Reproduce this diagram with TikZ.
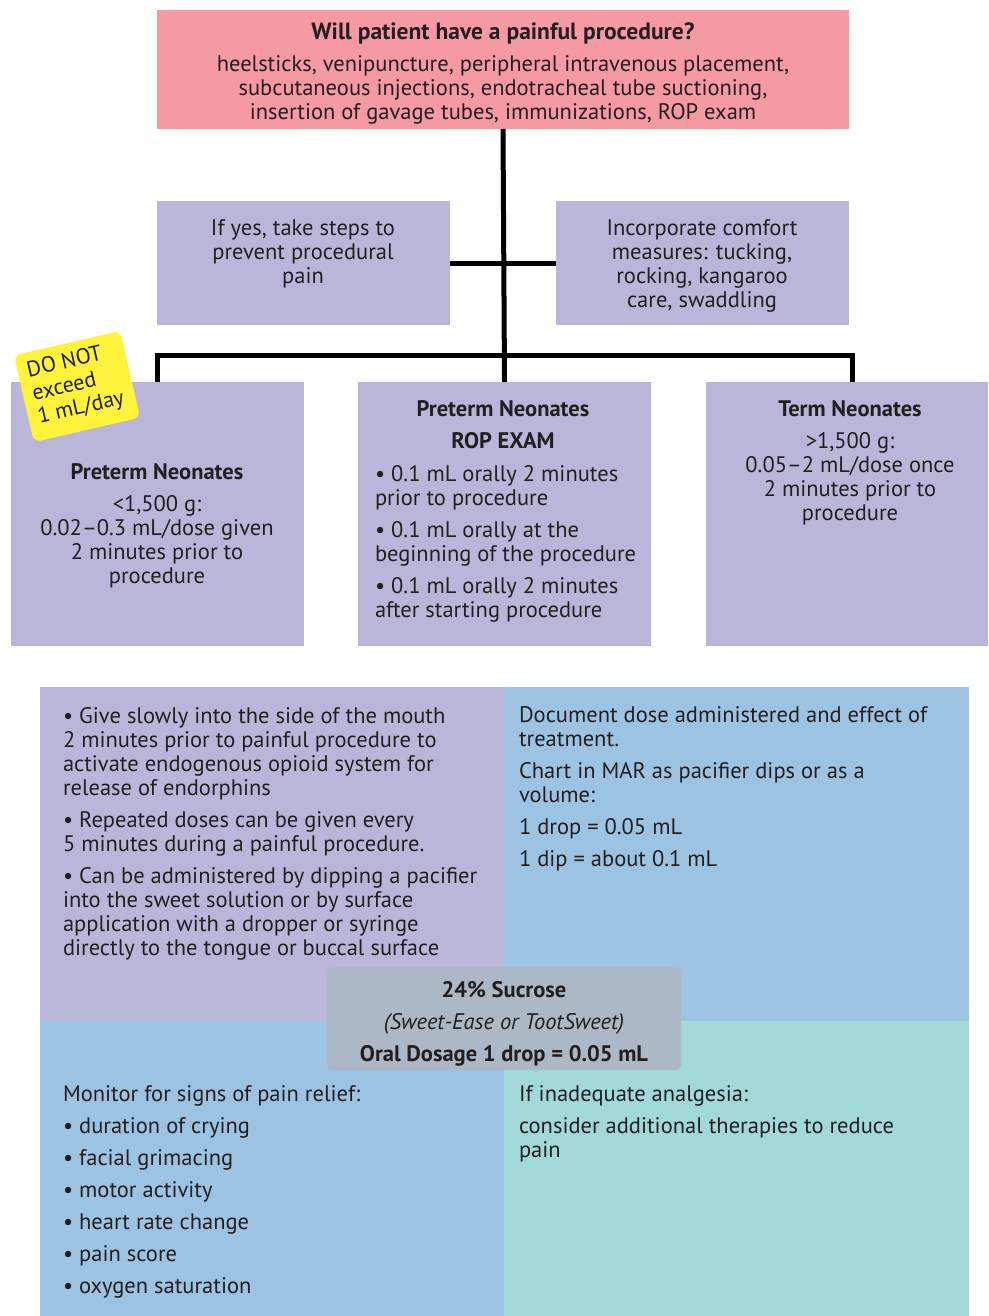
\documentclass[tikz,border=0pt]{standalone}
\usepackage{fontspec}
\setmainfont{PT Sans}
\definecolor{pinkc}{HTML}{F599A2}
\definecolor{purp}{HTML}{BAB6D9}
\definecolor{bluec}{HTML}{9DC3E3}
\definecolor{tealc}{HTML}{A1D9DA}
\definecolor{grayc}{HTML}{ADB8C6}
\definecolor{yel}{HTML}{FFF23A}
\definecolor{ink}{HTML}{231F20}
\begin{document}
\begin{tikzpicture}[x=1pt,y=-1pt,
  box/.style={fill=#1,draw=none,inner sep=0pt,outer sep=0pt},
  conn/.style={line width=5pt,draw=black,line join=miter},
  txt/.style={inner sep=0pt,outer sep=0pt,text=ink,font=\fontsize{22.5}{24}\selectfont,execute at begin node=\strut},
  ctxt/.style={txt,align=center,anchor=north},
  ltxt/.style={txt,align=left,anchor=north west},
]
\useasboundingbox (0,0) rectangle (988,1316);
% top box
\node[box=pinkc,minimum width=692pt,minimum height=119pt] (top) at (503,69.5) {};
\node[ctxt] (toptxt) at (503,23) {{\bfseries\fontsize{23.5}{24}\selectfont Will patient have a painful procedure?}\\[8pt]
heelsticks, venipuncture, peripheral intravenous placement,\\
subcutaneous injections, endotracheal tube suctioning,\\
insertion of gavage tubes, immunizations, ROP exam};
% middle boxes
\node[box=purp,minimum width=293pt,minimum height=124pt] (lm) at (303.5,263) {};
\node[box=purp,minimum width=293pt,minimum height=124pt] (rm) at (702.5,263) {};
\node[ctxt] (lmtxt) at (303,220) {If yes, take steps to\\ prevent procedural\\ pain};
\node[ctxt] (rmtxt) at (702,220) {Incorporate comfort\\ measures: tucking,\\ rocking, kangaroo\\ care, swaddling};
% lower boxes
\node[box=purp,minimum width=293pt,minimum height=264pt] (lb) at (157.5,514) {};
\node[box=purp,minimum width=293pt,minimum height=264pt] (mb) at (504.5,514) {};
\node[box=purp,minimum width=282pt,minimum height=264pt] (rb) at (847,514) {};
\coordinate (j) at (504,355);
% connectors
\draw[conn] (top.south) -- (mb.north);
\draw[conn] (lm.east) -- (rm.west);
\draw[conn] (lb.north) |- (j) -| ([xshift=5pt]rb.north);
% sticky note
\node[fill=yel,rounded corners=7pt,minimum width=109pt,minimum height=89pt,rotate=13,inner sep=0pt] (note) at (77,386.5) {};
\node[txt,font=\fontsize{22}{24}\selectfont,align=left,rotate=13,anchor=center] (notetxt) at ([xshift=-1pt,yshift=0pt]note.center) {DO NOT\\ exceed\\ 1 mL/day};
% lower box texts
\node[ctxt] (lbtxt) at (157,464) {{\bfseries Preterm Neonates}\\[8pt] <1,500 g:\\ 0.02--0.3 mL/dose given\\ 2 minutes prior to\\ procedure};
\node[ctxt] (mbtxt) at (503,401) {{\bfseries Preterm Neonates}\\[8pt] {\bfseries ROP EXAM}};
\node[ltxt] (mbbul) at (375,465) {• 0.1 mL orally 2 minutes\\ prior to procedure\\[8pt]
• 0.1 mL orally at the\\ beginning of the procedure\\[8pt]
• 0.1 mL orally 2 minutes\\ after starting procedure};
\node[ctxt] (rbtxt) at (850,401) {{\bfseries Term Neonates}\\[8pt] >1,500 g:\\ 0.05--2 mL/dose once\\ 2 minutes prior to\\ procedure};
% bottom quadrants
\fill[purp] (40,687) rectangle (504,1021);
\fill[bluec] (504,687) rectangle (969,1021);
\fill[bluec] (40,1021) rectangle (504,1316);
\fill[tealc] (504,1021) rectangle (969,1316);
\node[ltxt] (tl) at (63,707) {• Give slowly into the side of the mouth\\ 2 minutes prior to painful procedure to\\ activate endogenous opioid system for\\ release of endorphins\\[8pt]
• Repeated doses can be given every\\ 5 minutes during a painful procedure.\\[8pt]
• Can be administered by dipping a pacifier\\ into the sweet solution or by surface\\ application with a dropper or syringe\\ directly to the tongue or buccal surface};
\node[ltxt] (tr) at (519,707) {Document dose administered and effect of\\ treatment.\\[8pt]
Chart in MAR as pacifier dips or as a\\ volume:\\[8pt]
1 drop = 0.05 mL\\[8pt]
1 dip = about 0.1 mL};
\node[ltxt] (bl) at (63,1086) {Monitor for signs of pain relief:\\[8pt]
• duration of crying\\[8pt]
• facial grimacing\\[8pt]
• motor activity\\[8pt]
• heart rate change\\[8pt]
• pain score\\[8pt]
• oxygen saturation};
\node[ltxt] (br) at (519,1086) {If inadequate analgesia:\\[8pt]
consider additional therapies to reduce\\ pain};
% center box
\node[fill=grayc,rounded corners=6pt,minimum width=354pt,minimum height=103pt,inner sep=0pt] (center) at (504,1018.5) {};
\node[ctxt] (centertxt) at (504,981) {{\bfseries 24\% Sucrose}\\[8pt] {\itshape (Sweet-Ease or TootSweet)}\\[8pt] {\bfseries Oral Dosage 1 drop = 0.05 mL}};
\end{tikzpicture}
\end{document}
